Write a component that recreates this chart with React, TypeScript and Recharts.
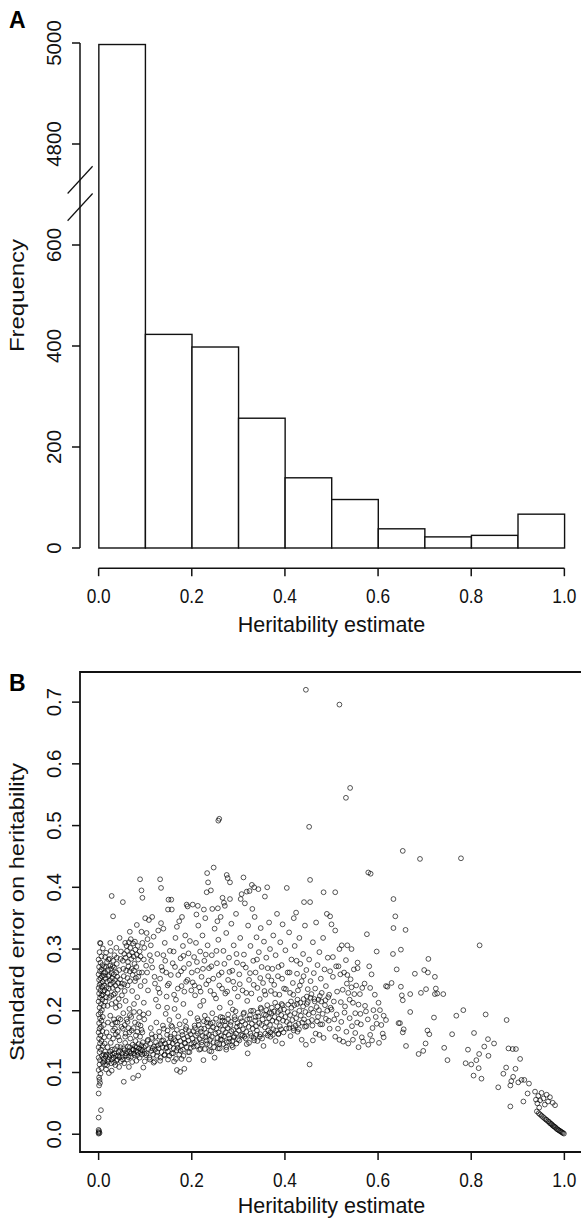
import React from 'react';
import {
  ComposedChart,
  Bar,
  ScatterChart,
  Scatter,
  XAxis,
  YAxis,
  ReferenceLine,
  ReferenceArea,
} from 'recharts';

// ---- panel A: histogram of heritability estimates ----
const binStarts = [0, 0.1, 0.2, 0.3, 0.4, 0.5, 0.6, 0.7, 0.8, 0.9];
const binWidth = 0.1;
const binCounts = [4997, 423, 398, 257, 139, 96, 38, 22, 25, 67];
const countTicks = [0, 200, 400, 600, 4800, 5000];
const heritTicks = [0, 0.2, 0.4, 0.6, 0.8, 1];

// ---- panel B: heritability vs. its standard error ----
const seTicks = [0, 0.1, 0.2, 0.3, 0.4, 0.5, 0.6, 0.7];

const zeroStack = [
  [0, 0.001], [0, 0.003], [0.001, 0.005], [0, 0.007], [0.002, 0.002], [0, 0.027], [0.005, 0.039],
  [0, 0.066], [0.001, 0.079], [0.003, 0.083], [0.002, 0.088],
];

const edgeColumn = [
  [0.001, 0.092], [0.004, 0.098], [0, 0.104], [0.006, 0.107], [0.002, 0.113], [0.009, 0.116], [0.003, 0.12],
  [0, 0.124], [0.007, 0.127], [0.011, 0.129], [0.002, 0.133], [0.005, 0.137], [0, 0.141], [0.009, 0.143],
  [0.003, 0.147], [0.006, 0.151], [0.001, 0.155], [0.012, 0.157], [0.004, 0.16], [0, 0.165], [0.008, 0.167],
  [0.002, 0.171], [0.005, 0.174], [0.011, 0.177], [0.001, 0.18], [0.006, 0.184], [0.003, 0.188], [0.009, 0.19],
  [0, 0.194], [0.004, 0.197], [0.007, 0.201], [0.002, 0.205], [0.011, 0.208], [0.005, 0.211], [0, 0.215],
  [0.008, 0.218], [0.003, 0.221], [0.006, 0.225], [0.001, 0.228], [0.01, 0.231], [0.004, 0.233], [0, 0.237],
  [0.007, 0.239], [0.002, 0.242], [0.005, 0.245], [0.009, 0.247], [0.001, 0.25], [0.004, 0.253], [0.007, 0.256],
  [0, 0.259], [0.011, 0.261], [0.003, 0.264], [0.006, 0.267], [0.001, 0.271], [0.008, 0.274], [0.004, 0.278],
  [0, 0.283], [0.006, 0.288], [0.002, 0.295], [0.009, 0.301], [0.004, 0.309],
];

const upperLeftCore = [
  [0.012, 0.241], [0.015, 0.252], [0.018, 0.247], [0.014, 0.262], [0.021, 0.256], [0.017, 0.238], [0.024, 0.249],
  [0.02, 0.266], [0.026, 0.243], [0.023, 0.258], [0.029, 0.253], [0.027, 0.268], [0.031, 0.246], [0.033, 0.259],
  [0.016, 0.271], [0.035, 0.25], [0.03, 0.237], [0.038, 0.262], [0.013, 0.233], [0.019, 0.229], [0.025, 0.273],
  [0.036, 0.241], [0.04, 0.255], [0.042, 0.245], [0.028, 0.261], [0.022, 0.236], [0.033, 0.27], [0.011, 0.257],
  [0.044, 0.266], [0.039, 0.276], [0.046, 0.251], [0.018, 0.279], [0.024, 0.284], [0.014, 0.287], [0.031, 0.281],
  [0.035, 0.228], [0.027, 0.224], [0.041, 0.234], [0.048, 0.239], [0.016, 0.222],
  [0.052, 0.281], [0.055, 0.292], [0.058, 0.286], [0.061, 0.297], [0.063, 0.279], [0.066, 0.29], [0.068, 0.302],
  [0.07, 0.284], [0.072, 0.294], [0.075, 0.288], [0.077, 0.276], [0.079, 0.299], [0.082, 0.291], [0.06, 0.305],
  [0.064, 0.272], [0.071, 0.268], [0.085, 0.283], [0.088, 0.296], [0.057, 0.31], [0.074, 0.309], [0.081, 0.271],
  [0.067, 0.264], [0.053, 0.268], [0.09, 0.288],
  [0.009, 0.226], [0.012, 0.271], [0.014, 0.215], [0.016, 0.294], [0.019, 0.208], [0.021, 0.283], [0.023, 0.221],
  [0.026, 0.297], [0.028, 0.211], [0.03, 0.272], [0.032, 0.226], [0.034, 0.29], [0.037, 0.205], [0.039, 0.286],
  [0.043, 0.219], [0.047, 0.284], [0.05, 0.244], [0.054, 0.256], [0.056, 0.232], [0.059, 0.265], [0.062, 0.241],
  [0.065, 0.311], [0.067, 0.248], [0.069, 0.316], [0.073, 0.258], [0.076, 0.265], [0.078, 0.312], [0.08, 0.253],
  [0.084, 0.305], [0.087, 0.262],
];

const upperLeftSpread = [
  [0.003, 0.31], [0.031, 0.353], [0.052, 0.376], [0.028, 0.386], [0.067, 0.328], [0.082, 0.339], [0.092, 0.328],
  [0.103, 0.326], [0.1, 0.35], [0.108, 0.347], [0.115, 0.352], [0.045, 0.318], [0.038, 0.302], [0.025, 0.31],
  [0.048, 0.296], [0.094, 0.31], [0.098, 0.302], [0.105, 0.316], [0.112, 0.306], [0.118, 0.32], [0.097, 0.283],
  [0.102, 0.273], [0.11, 0.29], [0.093, 0.262], [0.085, 0.255], [0.078, 0.248], [0.062, 0.253], [0.055, 0.243],
  [0.05, 0.225], [0.058, 0.216], [0.072, 0.232], [0.083, 0.222], [0.09, 0.24], [0.099, 0.248], [0.106, 0.233],
  [0.115, 0.27], [0.12, 0.255], [0.045, 0.208], [0.037, 0.214], [0.066, 0.203], [0.076, 0.211], [0.088, 0.198],
  [0.097, 0.213], [0.053, 0.196], [0.043, 0.188],
];

const lowerBandLeft = [
  [0.012, 0.118], [0.015, 0.126], [0.018, 0.112], [0.014, 0.134], [0.021, 0.121], [0.024, 0.129], [0.019, 0.141],
  [0.027, 0.115], [0.029, 0.137], [0.032, 0.124], [0.026, 0.148], [0.034, 0.131], [0.036, 0.112], [0.031, 0.155],
  [0.038, 0.119], [0.04, 0.142], [0.042, 0.127], [0.044, 0.109], [0.037, 0.162], [0.046, 0.135], [0.048, 0.118],
  [0.016, 0.105], [0.022, 0.099], [0.028, 0.103], [0.013, 0.147], [0.023, 0.158], [0.035, 0.171], [0.041, 0.166],
  [0.029, 0.178], [0.017, 0.165], [0.045, 0.152], [0.049, 0.174], [0.033, 0.186], [0.025, 0.192], [0.04, 0.181],
  [0.02, 0.181],
  [0.051, 0.126], [0.053, 0.139], [0.055, 0.115], [0.057, 0.148], [0.059, 0.131], [0.061, 0.121], [0.063, 0.142],
  [0.065, 0.109], [0.066, 0.134], [0.068, 0.155], [0.07, 0.126], [0.072, 0.117], [0.073, 0.145], [0.075, 0.137],
  [0.077, 0.128], [0.079, 0.151], [0.081, 0.119], [0.082, 0.141], [0.084, 0.133], [0.086, 0.146], [0.088, 0.124],
  [0.089, 0.158], [0.091, 0.137], [0.093, 0.129], [0.095, 0.149], [0.097, 0.141], [0.099, 0.118], [0.054, 0.085],
  [0.074, 0.091], [0.085, 0.095], [0.096, 0.108], [0.058, 0.163], [0.064, 0.172], [0.071, 0.168], [0.078, 0.181],
  [0.083, 0.166], [0.09, 0.176], [0.06, 0.186], [0.067, 0.193], [0.087, 0.189], [0.094, 0.165], [0.056, 0.177],
  [0.076, 0.198], [0.098, 0.186],
  [0.011, 0.122], [0.014, 0.113], [0.017, 0.129], [0.02, 0.117], [0.023, 0.125], [0.025, 0.134], [0.028, 0.121],
  [0.03, 0.129], [0.033, 0.116], [0.035, 0.138], [0.037, 0.127], [0.04, 0.121], [0.043, 0.133], [0.045, 0.125],
  [0.047, 0.141], [0.05, 0.131], [0.052, 0.121], [0.056, 0.136], [0.058, 0.127], [0.062, 0.133], [0.064, 0.125],
  [0.067, 0.141], [0.069, 0.131], [0.073, 0.137], [0.076, 0.131], [0.078, 0.142], [0.08, 0.135], [0.083, 0.128],
  [0.087, 0.139], [0.09, 0.133], [0.092, 0.144], [0.094, 0.136], [0.098, 0.131],
  [0.031, 0.168], [0.036, 0.181], [0.042, 0.158], [0.047, 0.186], [0.052, 0.171], [0.057, 0.158], [0.062, 0.182],
  [0.066, 0.165], [0.07, 0.19], [0.075, 0.172], [0.08, 0.16], [0.085, 0.178], [0.092, 0.169], [0.096, 0.194],
];

const lowerBandMid = [
  [0.101, 0.143], [0.103, 0.131], [0.105, 0.151], [0.107, 0.138], [0.109, 0.124], [0.111, 0.147], [0.113, 0.135],
  [0.115, 0.156], [0.117, 0.129], [0.119, 0.142], [0.121, 0.137], [0.123, 0.149], [0.125, 0.127], [0.127, 0.144],
  [0.129, 0.139], [0.131, 0.158], [0.133, 0.146], [0.135, 0.133], [0.137, 0.141], [0.139, 0.152], [0.141, 0.128],
  [0.143, 0.147], [0.145, 0.139], [0.147, 0.161], [0.149, 0.134], [0.151, 0.149], [0.153, 0.142], [0.155, 0.155],
  [0.157, 0.131], [0.159, 0.147], [0.161, 0.139], [0.163, 0.163], [0.165, 0.151], [0.167, 0.136], [0.169, 0.145],
  [0.171, 0.157], [0.173, 0.129], [0.175, 0.151], [0.177, 0.143], [0.179, 0.166], [0.181, 0.137], [0.183, 0.155],
  [0.185, 0.148], [0.187, 0.17], [0.189, 0.141], [0.191, 0.158], [0.193, 0.152], [0.195, 0.133], [0.197, 0.162],
  [0.199, 0.146], [0.168, 0.104], [0.175, 0.101], [0.184, 0.106], [0.112, 0.172], [0.124, 0.181], [0.138, 0.176],
  [0.152, 0.185], [0.144, 0.195], [0.158, 0.174], [0.171, 0.191], [0.186, 0.183], [0.118, 0.116], [0.132, 0.119],
  [0.149, 0.121], [0.162, 0.118], [0.178, 0.122], [0.194, 0.121], [0.146, 0.223], [0.128, 0.207], [0.163, 0.203],
  [0.182, 0.211], [0.107, 0.196], [0.197, 0.196],
  [0.102, 0.128], [0.106, 0.153], [0.11, 0.121], [0.114, 0.162], [0.116, 0.139], [0.12, 0.118], [0.122, 0.158],
  [0.126, 0.133], [0.13, 0.166], [0.133, 0.124], [0.136, 0.151], [0.14, 0.171], [0.142, 0.129], [0.146, 0.141],
  [0.148, 0.168], [0.152, 0.127], [0.154, 0.158], [0.156, 0.176], [0.16, 0.131], [0.162, 0.154], [0.166, 0.122],
  [0.168, 0.169], [0.17, 0.14], [0.174, 0.178], [0.176, 0.135], [0.18, 0.161], [0.182, 0.127], [0.186, 0.147],
  [0.188, 0.174], [0.192, 0.133], [0.194, 0.167], [0.198, 0.14],
  [0.201, 0.155], [0.203, 0.167], [0.205, 0.148], [0.207, 0.172], [0.209, 0.16], [0.211, 0.143], [0.213, 0.163],
  [0.215, 0.177], [0.217, 0.154], [0.219, 0.166], [0.221, 0.149], [0.223, 0.159], [0.225, 0.12], [0.227, 0.171],
  [0.229, 0.157], [0.231, 0.164], [0.233, 0.146], [0.235, 0.175], [0.237, 0.161], [0.239, 0.153], [0.241, 0.168],
  [0.243, 0.158], [0.245, 0.181], [0.247, 0.149], [0.249, 0.124], [0.251, 0.163], [0.253, 0.171], [0.255, 0.156],
  [0.257, 0.165], [0.259, 0.146], [0.261, 0.176], [0.263, 0.16], [0.265, 0.153], [0.267, 0.169], [0.269, 0.158],
  [0.271, 0.183], [0.273, 0.165], [0.275, 0.149], [0.277, 0.172], [0.279, 0.161], [0.281, 0.155], [0.283, 0.177],
  [0.285, 0.167], [0.287, 0.151], [0.289, 0.169], [0.291, 0.159], [0.293, 0.186], [0.295, 0.163], [0.297, 0.174],
  [0.299, 0.154], [0.212, 0.188], [0.228, 0.192], [0.244, 0.196], [0.262, 0.19], [0.278, 0.194], [0.294, 0.199],
  [0.219, 0.138], [0.238, 0.135], [0.256, 0.139], [0.274, 0.137], [0.288, 0.141], [0.232, 0.181], [0.266, 0.184],
  [0.204, 0.142], [0.206, 0.176], [0.21, 0.151], [0.214, 0.184], [0.216, 0.137], [0.22, 0.171], [0.222, 0.145],
  [0.226, 0.183], [0.228, 0.138], [0.232, 0.152], [0.234, 0.186], [0.238, 0.144], [0.24, 0.179], [0.242, 0.134],
  [0.246, 0.173], [0.248, 0.141], [0.252, 0.187], [0.254, 0.148], [0.258, 0.178], [0.26, 0.139], [0.262, 0.154],
  [0.266, 0.189], [0.268, 0.146], [0.272, 0.176], [0.274, 0.141], [0.278, 0.186], [0.28, 0.15], [0.284, 0.182],
  [0.286, 0.144], [0.29, 0.157], [0.292, 0.19], [0.296, 0.147], [0.298, 0.18],
];

const lowerBandRight = [
  [0.301, 0.168], [0.303, 0.176], [0.306, 0.161], [0.308, 0.183], [0.31, 0.17], [0.313, 0.158], [0.315, 0.178],
  [0.317, 0.166], [0.32, 0.131], [0.322, 0.174], [0.324, 0.187], [0.326, 0.163], [0.329, 0.179], [0.331, 0.171],
  [0.333, 0.156], [0.336, 0.184], [0.338, 0.175], [0.34, 0.168], [0.343, 0.191], [0.345, 0.18], [0.347, 0.162],
  [0.35, 0.177], [0.352, 0.186], [0.354, 0.143], [0.357, 0.173], [0.359, 0.193], [0.361, 0.181], [0.364, 0.168],
  [0.366, 0.188], [0.368, 0.177], [0.371, 0.196], [0.373, 0.184], [0.375, 0.17], [0.378, 0.19], [0.38, 0.151],
  [0.382, 0.182], [0.385, 0.198], [0.387, 0.187], [0.389, 0.175], [0.392, 0.193], [0.394, 0.147], [0.396, 0.184],
  [0.398, 0.202], [0.311, 0.195], [0.327, 0.2], [0.348, 0.205], [0.362, 0.209], [0.379, 0.213], [0.393, 0.211],
  [0.318, 0.146], [0.341, 0.151], [0.369, 0.158], [0.386, 0.163],
  [0.302, 0.152], [0.305, 0.188], [0.309, 0.16], [0.312, 0.197], [0.316, 0.155], [0.319, 0.186], [0.323, 0.148],
  [0.325, 0.193], [0.328, 0.159], [0.332, 0.2], [0.334, 0.152], [0.337, 0.19], [0.339, 0.161], [0.342, 0.197],
  [0.346, 0.158], [0.349, 0.203], [0.351, 0.155], [0.355, 0.194], [0.358, 0.163], [0.36, 0.201], [0.363, 0.16],
  [0.367, 0.197], [0.369, 0.165], [0.372, 0.205], [0.374, 0.161], [0.377, 0.199], [0.381, 0.168], [0.384, 0.207],
  [0.386, 0.162], [0.39, 0.201], [0.392, 0.17], [0.395, 0.209], [0.397, 0.165],
  [0.401, 0.19], [0.404, 0.182], [0.406, 0.198], [0.409, 0.172], [0.411, 0.193], [0.414, 0.205], [0.416, 0.185],
  [0.419, 0.168], [0.421, 0.196], [0.424, 0.188], [0.426, 0.211], [0.429, 0.179], [0.431, 0.2], [0.434, 0.192],
  [0.436, 0.153], [0.439, 0.207], [0.441, 0.186], [0.444, 0.198], [0.446, 0.175], [0.449, 0.214], [0.451, 0.194],
  [0.453, 0.113], [0.456, 0.203], [0.458, 0.185], [0.461, 0.197], [0.463, 0.219], [0.466, 0.163], [0.468, 0.206],
  [0.471, 0.19], [0.473, 0.201], [0.476, 0.178], [0.478, 0.215], [0.481, 0.195], [0.483, 0.156], [0.486, 0.209],
  [0.488, 0.187], [0.491, 0.2], [0.493, 0.222], [0.496, 0.171], [0.498, 0.205], [0.445, 0.145], [0.412, 0.159],
  [0.427, 0.166], [0.474, 0.161], [0.46, 0.152],
  [0.403, 0.171], [0.407, 0.21], [0.41, 0.178], [0.413, 0.215], [0.418, 0.172], [0.42, 0.209], [0.423, 0.176],
  [0.427, 0.218], [0.43, 0.17], [0.433, 0.213], [0.437, 0.181], [0.44, 0.219], [0.443, 0.174], [0.447, 0.211],
  [0.45, 0.182], [0.455, 0.221], [0.459, 0.176], [0.464, 0.215], [0.469, 0.183], [0.475, 0.224], [0.48, 0.178],
  [0.487, 0.217], [0.494, 0.184],
];

const upperCloud = [
  [0.123, 0.218], [0.128, 0.236], [0.132, 0.252], [0.135, 0.271], [0.139, 0.29], [0.128, 0.33], [0.134, 0.342],
  [0.139, 0.333], [0.142, 0.31], [0.145, 0.262], [0.149, 0.364], [0.151, 0.244], [0.153, 0.297], [0.157, 0.364],
  [0.159, 0.277], [0.162, 0.226], [0.165, 0.318], [0.168, 0.336], [0.171, 0.258], [0.173, 0.345], [0.176, 0.285],
  [0.178, 0.24], [0.181, 0.305], [0.183, 0.269], [0.186, 0.322], [0.189, 0.372], [0.191, 0.25], [0.193, 0.293],
  [0.196, 0.313], [0.199, 0.233], [0.156, 0.38], [0.132, 0.413], [0.134, 0.399], [0.089, 0.413], [0.092, 0.395],
  [0.094, 0.383], [0.15, 0.38], [0.166, 0.218], [0.184, 0.231], [0.147, 0.205], [0.191, 0.369], [0.202, 0.372],
  [0.213, 0.37], [0.179, 0.352],
  [0.202, 0.246], [0.205, 0.287], [0.207, 0.225], [0.209, 0.31], [0.212, 0.265], [0.214, 0.338], [0.216, 0.238],
  [0.218, 0.296], [0.221, 0.255], [0.223, 0.322], [0.225, 0.216], [0.227, 0.281], [0.229, 0.35], [0.231, 0.243],
  [0.233, 0.423], [0.235, 0.408], [0.232, 0.392], [0.241, 0.395], [0.247, 0.432], [0.226, 0.364], [0.244, 0.365],
  [0.256, 0.366], [0.234, 0.306], [0.237, 0.269], [0.24, 0.232], [0.243, 0.29], [0.246, 0.252], [0.249, 0.333],
  [0.252, 0.22], [0.254, 0.277], [0.257, 0.315], [0.259, 0.241], [0.262, 0.352], [0.264, 0.262], [0.266, 0.383],
  [0.269, 0.375], [0.271, 0.37], [0.268, 0.297], [0.272, 0.228], [0.275, 0.42], [0.277, 0.415], [0.282, 0.408],
  [0.282, 0.381], [0.274, 0.326], [0.278, 0.25], [0.28, 0.286], [0.283, 0.213], [0.285, 0.341], [0.287, 0.265],
  [0.29, 0.306], [0.292, 0.236], [0.295, 0.357], [0.297, 0.278], [0.299, 0.223], [0.26, 0.205], [0.218, 0.208],
  [0.288, 0.202], [0.21, 0.356], [0.255, 0.345],
  [0.302, 0.259], [0.305, 0.381], [0.307, 0.389], [0.311, 0.416], [0.304, 0.318], [0.309, 0.233], [0.312, 0.291],
  [0.314, 0.374], [0.318, 0.393], [0.316, 0.27], [0.319, 0.216], [0.321, 0.338], [0.324, 0.394], [0.323, 0.25],
  [0.326, 0.305], [0.329, 0.404], [0.33, 0.365], [0.328, 0.228], [0.332, 0.281], [0.334, 0.4], [0.335, 0.352],
  [0.337, 0.262], [0.339, 0.319], [0.341, 0.237], [0.343, 0.397], [0.344, 0.295], [0.346, 0.219], [0.348, 0.334],
  [0.35, 0.271], [0.353, 0.245], [0.355, 0.312], [0.357, 0.385], [0.358, 0.226], [0.36, 0.286], [0.362, 0.4],
  [0.364, 0.256], [0.366, 0.343], [0.368, 0.3], [0.37, 0.232], [0.373, 0.268], [0.375, 0.322], [0.377, 0.242],
  [0.38, 0.29], [0.383, 0.357], [0.385, 0.256], [0.388, 0.226], [0.39, 0.311], [0.393, 0.274], [0.395, 0.34],
  [0.398, 0.236], [0.401, 0.298], [0.404, 0.399], [0.406, 0.262], [0.409, 0.327], [0.411, 0.229], [0.414, 0.283],
  [0.417, 0.245], [0.419, 0.35], [0.421, 0.305], [0.424, 0.359], [0.426, 0.26], [0.428, 0.233], [0.431, 0.318],
  [0.433, 0.276], [0.436, 0.248], [0.439, 0.292], [0.441, 0.376], [0.443, 0.338], [0.446, 0.266], [0.449, 0.235],
  [0.454, 0.412], [0.454, 0.376],
  [0.104, 0.262], [0.113, 0.281], [0.121, 0.244], [0.126, 0.292], [0.131, 0.229], [0.137, 0.265], [0.143, 0.281],
  [0.148, 0.241], [0.155, 0.258], [0.161, 0.296], [0.164, 0.271], [0.17, 0.236], [0.177, 0.264], [0.182, 0.289],
  [0.188, 0.247], [0.194, 0.276], [0.2, 0.262], [0.206, 0.241], [0.211, 0.279], [0.219, 0.231], [0.224, 0.268],
  [0.23, 0.291], [0.236, 0.249], [0.242, 0.272], [0.248, 0.226], [0.253, 0.297], [0.258, 0.258], [0.265, 0.236],
  [0.27, 0.276], [0.276, 0.231], [0.281, 0.263], [0.289, 0.247], [0.296, 0.292], [0.303, 0.243], [0.31, 0.275],
  [0.317, 0.229], [0.325, 0.261], [0.333, 0.242], [0.34, 0.283], [0.347, 0.253], [0.356, 0.232], [0.363, 0.269],
  [0.371, 0.249], [0.379, 0.227], [0.386, 0.271], [0.394, 0.252], [0.402, 0.235], [0.41, 0.262], [0.418, 0.226],
  [0.425, 0.281], [0.432, 0.241], [0.44, 0.256], [0.447, 0.223],
];

const midRight = [
  [0.452, 0.283], [0.455, 0.248], [0.457, 0.227], [0.46, 0.311], [0.462, 0.261], [0.465, 0.236], [0.467, 0.343],
  [0.47, 0.274], [0.472, 0.218], [0.474, 0.295], [0.477, 0.252], [0.479, 0.229], [0.482, 0.318], [0.483, 0.392],
  [0.485, 0.267], [0.488, 0.24], [0.49, 0.357], [0.492, 0.286], [0.495, 0.226], [0.497, 0.353], [0.5, 0.34],
  [0.503, 0.287], [0.503, 0.255], [0.505, 0.215], [0.508, 0.392], [0.508, 0.33], [0.51, 0.272], [0.512, 0.231],
  [0.515, 0.272], [0.517, 0.3], [0.52, 0.214], [0.522, 0.306], [0.524, 0.234], [0.527, 0.262], [0.529, 0.207],
  [0.531, 0.282], [0.534, 0.306], [0.534, 0.258], [0.536, 0.229], [0.539, 0.218], [0.541, 0.251], [0.543, 0.3],
  [0.543, 0.238], [0.546, 0.213], [0.548, 0.267], [0.551, 0.196], [0.553, 0.241], [0.556, 0.278], [0.556, 0.269],
  [0.558, 0.21], [0.561, 0.227], [0.563, 0.178], [0.565, 0.157], [0.566, 0.237], [0.568, 0.15], [0.571, 0.244],
  [0.574, 0.199], [0.576, 0.324], [0.578, 0.186], [0.581, 0.272], [0.583, 0.237], [0.583, 0.161], [0.586, 0.259],
  [0.588, 0.172], [0.59, 0.201], [0.593, 0.226], [0.595, 0.19], [0.597, 0.296], [0.601, 0.213], [0.604, 0.201],
  [0.607, 0.177], [0.61, 0.163], [0.612, 0.192], [0.617, 0.185], [0.617, 0.24], [0.62, 0.239], [0.5, 0.202],
  [0.506, 0.186], [0.511, 0.194], [0.508, 0.158], [0.514, 0.171], [0.517, 0.153], [0.521, 0.182], [0.525, 0.15],
  [0.528, 0.197], [0.532, 0.166], [0.536, 0.147], [0.539, 0.188], [0.544, 0.175], [0.546, 0.153], [0.551, 0.164],
  [0.555, 0.181], [0.558, 0.141], [0.562, 0.195], [0.549, 0.227], [0.533, 0.244], [0.519, 0.259], [0.497, 0.264],
  [0.572, 0.208], [0.579, 0.145], [0.597, 0.179], [0.602, 0.148], [0.612, 0.157], [0.587, 0.152],
];

const tail = [
  [0.629, 0.245], [0.632, 0.292], [0.633, 0.334], [0.633, 0.381], [0.637, 0.353], [0.64, 0.267], [0.644, 0.18],
  [0.647, 0.18], [0.649, 0.299], [0.649, 0.239], [0.651, 0.225], [0.653, 0.217], [0.653, 0.165], [0.655, 0.17],
  [0.659, 0.331], [0.66, 0.143], [0.669, 0.198], [0.669, 0.227], [0.679, 0.26], [0.687, 0.13], [0.692, 0.229],
  [0.697, 0.135], [0.699, 0.266], [0.702, 0.147], [0.703, 0.235], [0.706, 0.168], [0.707, 0.262], [0.708, 0.284],
  [0.71, 0.162], [0.72, 0.189], [0.722, 0.255], [0.722, 0.227], [0.724, 0.236], [0.727, 0.228], [0.74, 0.227],
  [0.742, 0.14], [0.749, 0.12], [0.759, 0.162], [0.768, 0.192], [0.783, 0.201], [0.788, 0.115], [0.793, 0.137],
  [0.8, 0.113], [0.805, 0.095], [0.806, 0.164], [0.811, 0.12], [0.816, 0.107], [0.817, 0.13], [0.818, 0.306],
  [0.822, 0.09], [0.828, 0.142], [0.831, 0.194], [0.836, 0.154], [0.837, 0.127], [0.849, 0.147], [0.858, 0.076],
  [0.869, 0.098], [0.875, 0.108], [0.876, 0.185], [0.88, 0.139], [0.884, 0.045], [0.884, 0.079], [0.886, 0.086],
  [0.889, 0.138], [0.89, 0.093], [0.896, 0.138], [0.895, 0.106], [0.901, 0.084], [0.905, 0.122], [0.908, 0.088],
  [0.914, 0.088], [0.912, 0.053], [0.921, 0.066], [0.924, 0.082],
];

const endLine = [
  [0.937, 0.069], [0.944, 0.062], [0.948, 0.055], [0.951, 0.067], [0.955, 0.058], [0.958, 0.048], [0.962, 0.064],
  [0.965, 0.053], [0.969, 0.06], [0.975, 0.051], [0.98, 0.047], [0.942, 0.05], [0.946, 0.043], [0.939, 0.056],
  [0.941, 0.037], [0.945, 0.034], [0.948, 0.032], [0.951, 0.03], [0.954, 0.028], [0.957, 0.026], [0.96, 0.024],
  [0.962, 0.023], [0.965, 0.021], [0.967, 0.02], [0.969, 0.018], [0.971, 0.017], [0.973, 0.016], [0.975, 0.014],
  [0.977, 0.013], [0.979, 0.012], [0.981, 0.011], [0.983, 0.009], [0.985, 0.008], [0.987, 0.007], [0.989, 0.006],
  [0.991, 0.005], [0.993, 0.004], [0.995, 0.003], [0.997, 0.002], [0.999, 0.001],
];

const outliers = [
  [0.445, 0.72], [0.517, 0.696], [0.54, 0.561], [0.531, 0.545], [0.259, 0.511], [0.257, 0.508], [0.452, 0.498],
  [0.653, 0.459], [0.69, 0.446], [0.778, 0.447], [0.579, 0.424], [0.584, 0.422],
];

// ---- layout ----
const FONT = '"Liberation Sans", Arial, Helvetica, sans-serif';
const INK = '#111';
const CHART_W = 590;
const AXIS_W = 80;
const RIGHT = 7;
const PLOT_W = CHART_W - AXIS_W - RIGHT;
const X_DOMAIN: [number, number] = [-0.04, 1.04];

const A_H = 650;
const A_TOP = 22.8;
const A_BOTTOM = 568.2;
const B_OFFSET = 640;
const B_H = 583;
const B_TOP = 32;
const B_BOTTOM = 512;

// broken y axis in panel A: counts above the gap are drawn 4000 lower
const GAP_FROM = 700;
const GAP_SIZE = 4000;
const squeeze = (v: number) => (v > GAP_FROM ? v - GAP_SIZE : v);
const unsqueeze = (v: number) => (v > GAP_FROM ? v + GAP_SIZE : v);
const A_Y_DOMAIN: [number, number] = [-40, 1040];
const B_Y_DOMAIN: [number, number] = [-0.0288, 0.7488];

// R draws the y axis line of panel A only between the first and last tick
const A_PX = (A_BOTTOM - A_TOP) / (A_Y_DOMAIN[1] - A_Y_DOMAIN[0]);
const toPxA = (v: number) => A_TOP + (A_Y_DOMAIN[1] - v) * A_PX;
const RULE_TOP = toPxA(squeeze(countTicks[countTicks.length - 1]));
const RULE_BOTTOM = toPxA(countTicks[0]);

const bins = binStarts.map((s, i) => ({
  mid: s + binWidth / 2,
  count: binCounts[i],
  shown: squeeze(binCounts[i]),
}));

const points = [
  ...zeroStack, ...edgeColumn, ...upperLeftCore, ...upperLeftSpread, ...lowerBandLeft,
  ...lowerBandMid, ...lowerBandRight, ...upperCloud, ...midRight, ...tail, ...endLine, ...outliers,
].map(([h, se]) => ({ h, se }));

const XTick = ({ x, payload, baseY }: any) => (
  <text x={x} y={baseY} textAnchor="middle" fontFamily={FONT} fontSize={21}
    textLength={24} lengthAdjust="spacingAndGlyphs" fill={INK}>
    {Number(payload.value).toFixed(1)}
  </text>
);

const YTick = ({ y, payload, fmt }: any) => (
  <text x={61} y={y} transform={`rotate(-90 61 ${y})`} textAnchor="middle"
    fontFamily={FONT} fontSize={20.5} fill={INK}>
    {fmt(payload.value)}
  </text>
);

const XTitle = ({ cx, baseY, text }: any) => (
  <text x={cx} y={baseY} textAnchor="middle" fontFamily={FONT} fontSize={21.5} fill={INK}>
    {text}
  </text>
);

const YTitle = ({ cy, text, length }: any) => (
  <text x={24} y={cy} transform={`rotate(-90 24 ${cy})`} textAnchor="middle" fontFamily={FONT}
    fontSize={20.5} textLength={length} lengthAdjust="spacingAndGlyphs" fill={INK}>
    {text}
  </text>
);

// histogram bars span the whole bin (no gap between neighbours)
const HistBar = ({ x, y, width, height, full }: any) => (
  <rect x={x + width / 2 - full / 2} y={y} width={full} height={height}
    fill="#fff" stroke={INK} strokeWidth={1.4} />
);

const Dot = (props: any) => (
  <circle cx={props.cx} cy={props.cy} r={2.4} fill="none" stroke="#000"
    strokeOpacity={0.88} strokeWidth={0.75} />
);

const line = { stroke: INK, strokeWidth: 1.5 };
const breakMarks = [675, 729];

export default function App() {
  const xCenter = AXIS_W + PLOT_W / 2;
  const barSize = (PLOT_W / (X_DOMAIN[1] - X_DOMAIN[0])) * binWidth;

  return (
    <div style={{ position: 'absolute', left: 0, top: 0, width: 581, height: 1223, overflow: 'hidden', background: '#fff' }}>
      <div style={{ position: 'absolute', left: 0, top: 0 }}>
        <ComposedChart width={CHART_W} height={A_H} data={bins} barCategoryGap={0} barGap={0}
          margin={{ top: A_TOP, right: RIGHT, bottom: A_H - A_BOTTOM - 60, left: 0 }}>
          <XAxis dataKey="mid" type="number" domain={X_DOMAIN} ticks={heritTicks}
            interval={0} axisLine={false} tickLine={line} tickSize={8} height={60}
            tick={<XTick baseY={A_BOTTOM + 34.8} />}
            label={<XTitle cx={xCenter} baseY={A_BOTTOM + 64} text="Heritability estimate" />} />
          <YAxis type="number" domain={A_Y_DOMAIN} ticks={countTicks.map(squeeze)}
            interval={0} width={AXIS_W} axisLine={false} tickLine={line} tickSize={8}
            tick={<YTick fmt={(v: number) => String(unsqueeze(v))} />}
            label={<YTitle cy={(A_TOP + A_BOTTOM) / 2} text="Frequency" length={113} />} />
          <Bar dataKey="shown" shape={<HistBar full={barSize} />} isAnimationActive={false} />
          <ReferenceLine segment={[{ x: 0, y: A_Y_DOMAIN[0] }, { x: 1, y: A_Y_DOMAIN[0] }]}
            ifOverflow="visible" {...line} />
          {breakMarks.map((m) => (
            <ReferenceLine key={m} segment={[{ x: -0.0666, y: m - 27 }, { x: -0.0129, y: m + 27 }]}
              ifOverflow="visible" stroke={INK} strokeWidth={1.2} />
          ))}
        </ComposedChart>
      </div>

      <div style={{ position: 'absolute', left: 0, top: B_OFFSET }}>
        <ScatterChart width={CHART_W} height={B_H}
          margin={{ top: B_TOP, right: RIGHT, bottom: B_H - B_BOTTOM - 60, left: 0 }}>
          <XAxis dataKey="h" type="number" domain={X_DOMAIN} allowDataOverflow ticks={heritTicks}
            interval={0} axisLine={false} tickLine={line} tickSize={8} height={60}
            tick={<XTick baseY={B_BOTTOM + 35} />}
            label={<XTitle cx={xCenter} baseY={B_BOTTOM + 61} text="Heritability estimate" />} />
          <YAxis dataKey="se" type="number" domain={B_Y_DOMAIN} allowDataOverflow ticks={seTicks}
            interval={0} width={AXIS_W} axisLine={false} tickLine={line} tickSize={8}
            tick={<YTick fmt={(v: number) => v.toFixed(1)} />}
            label={<YTitle cy={(B_TOP + B_BOTTOM) / 2} text="Standard error on heritability" length={298} />} />
          <ReferenceArea x1={X_DOMAIN[0]} x2={X_DOMAIN[1]} y1={B_Y_DOMAIN[0]} y2={B_Y_DOMAIN[1]}
            fill="none" stroke={INK} strokeWidth={1.8} ifOverflow="visible" />
          <Scatter data={points} shape={<Dot />} isAnimationActive={false} />
        </ScatterChart>
      </div>

      <svg width={581} height={1223} style={{ position: 'absolute', left: 0, top: 0, pointerEvents: 'none' }}>
        {/* y axis line of panel A, between the 0 and 5000 ticks */}
        <line x1={AXIS_W} x2={AXIS_W} y1={RULE_TOP} y2={RULE_BOTTOM} stroke={INK} strokeWidth={1.5} />
        <text x={9} y={28} fontFamily={FONT} fontWeight="bold" fontSize={23} fill="#000">A</text>
        <text x={9} y={691} fontFamily={FONT} fontWeight="bold" fontSize={23} fill="#000">B</text>
      </svg>
    </div>
  );
}
